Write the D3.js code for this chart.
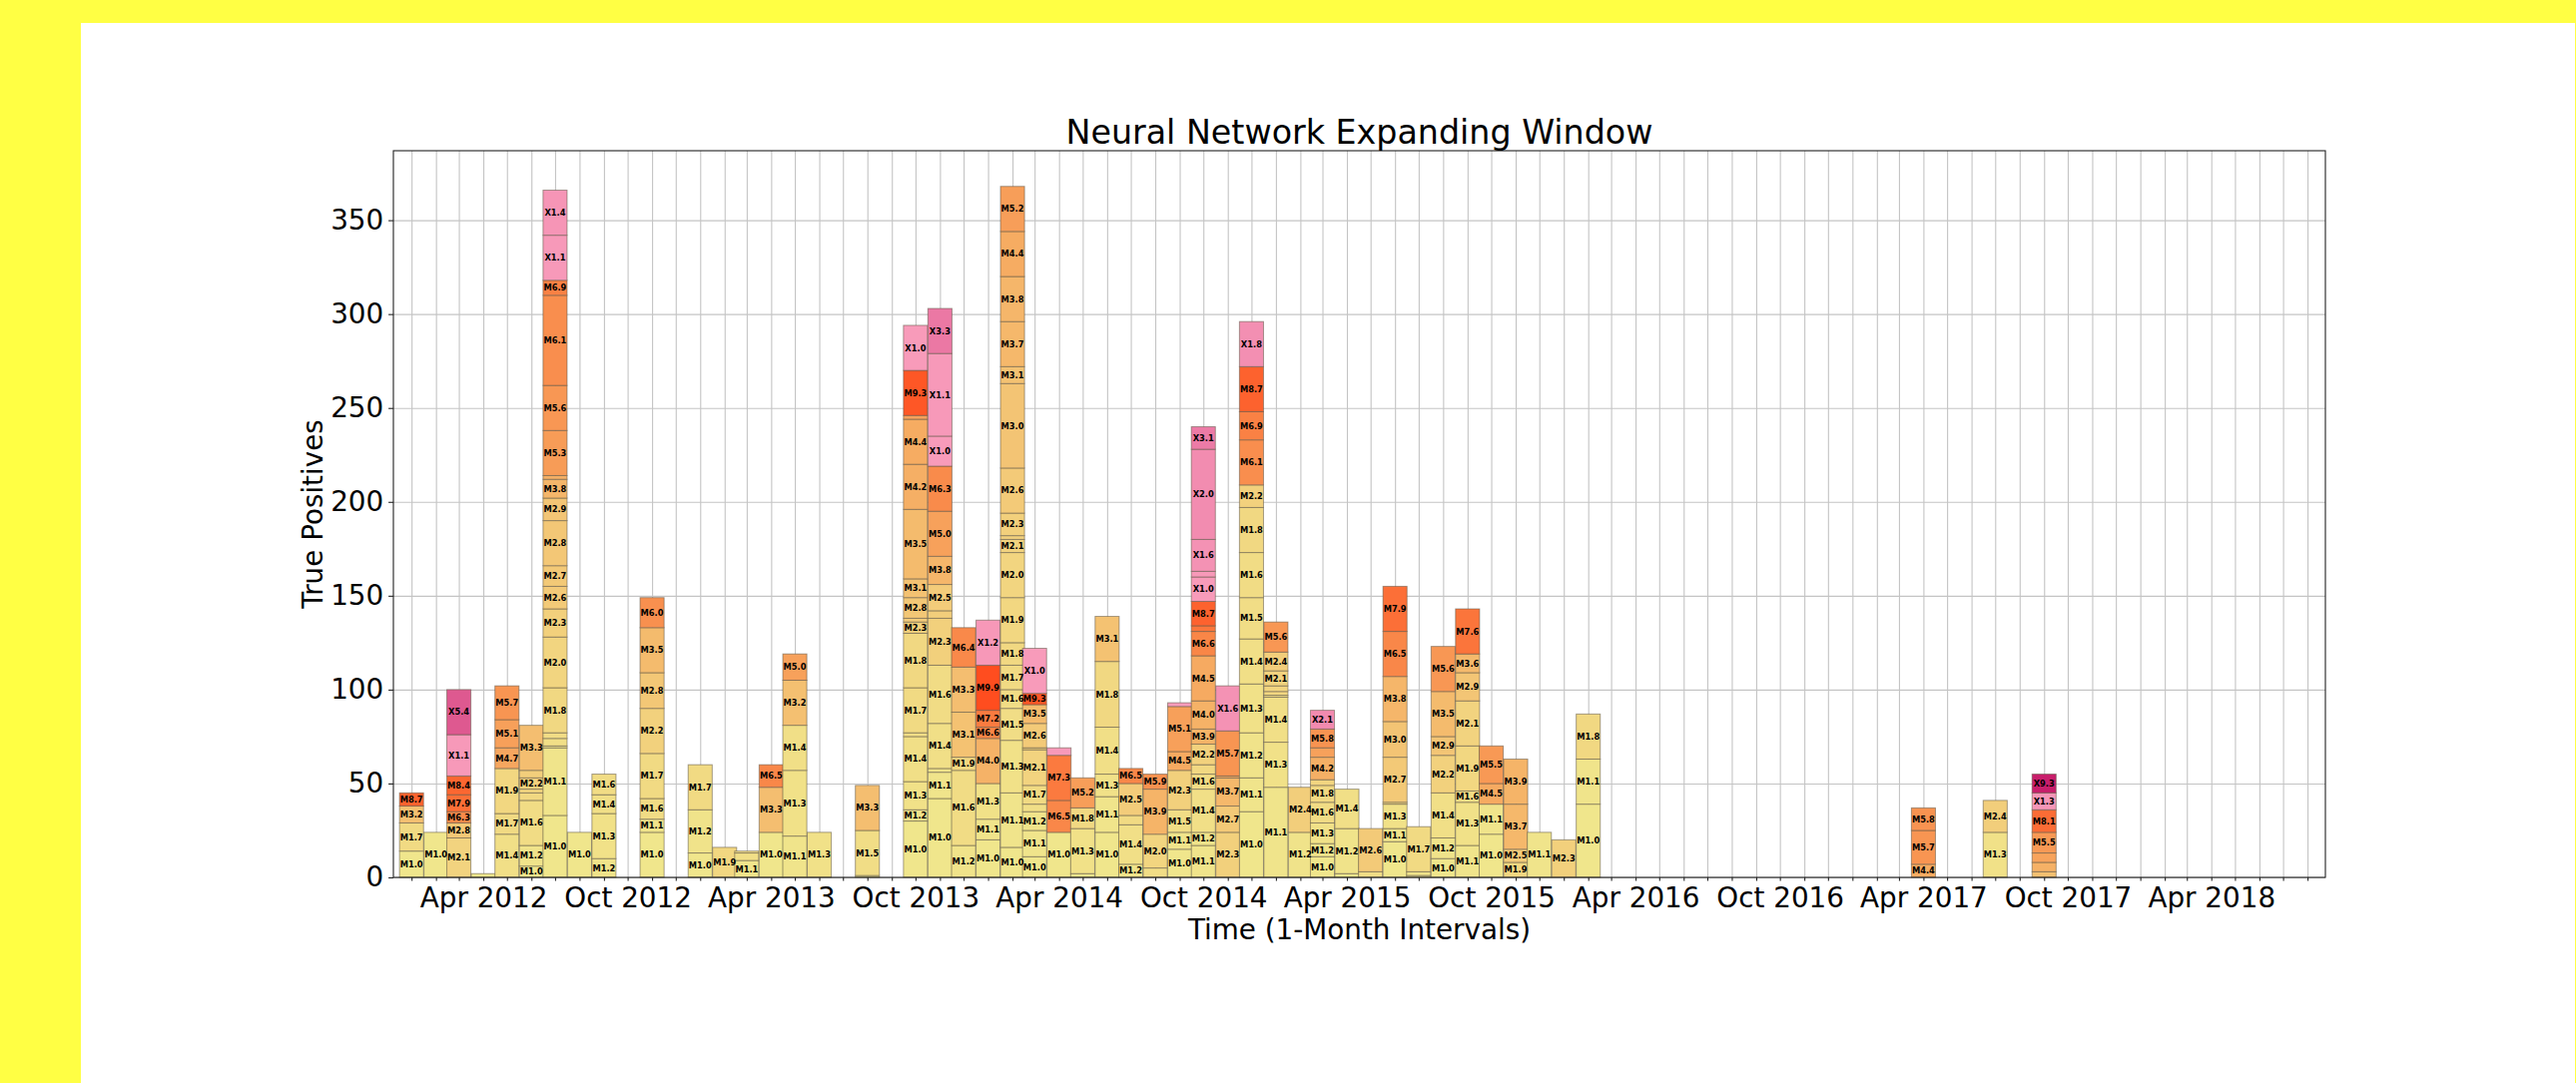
<!DOCTYPE html>
<html>
<head>
<meta charset="utf-8">
<script src="https://cdn.jsdelivr.net/npm/d3@7"></script>
<style>
html, body { margin: 0; padding: 0; background: #ffff44; overflow: hidden; }
svg { display: block; }
text { font-family: "DejaVu Sans", sans-serif; }
</style>
</head>
<body>
<div id="chart"></div>
<script>
// months that have at least one detected flare
var months = ["2012-01","2012-02","2012-03","2012-04","2012-05","2012-06","2012-07","2012-08","2012-09","2012-11",
  "2013-01","2013-02","2013-03","2013-04","2013-05","2013-06","2013-08","2013-10","2013-11","2013-12",
  "2014-01","2014-02","2014-03","2014-04","2014-05","2014-06","2014-07","2014-08","2014-09","2014-10","2014-11","2014-12",
  "2015-01","2015-02","2015-03","2015-04","2015-05","2015-06","2015-07","2015-08","2015-09","2015-10","2015-11","2015-12",
  "2016-01","2016-02","2017-04","2017-07","2017-09"];

// flare class of each stacked segment, bottom to top
var flareClasses = [
  ["M1.0","M1.7","M3.2","M8.7"],
  ["M1.0"],
  ["M2.1","M2.8","M6.3","M7.9","M8.4","X1.1","X5.4"],
  ["M1.0"],
  ["M1.4","M1.7","M1.9","M4.7","M5.1","M5.7"],
  ["M1.0","M1.2","M1.6","M1.8","M2.0","M2.2","M2.4","M3.3"],
  ["M1.0","M1.1","M1.2","M1.4","M1.6","M1.8","M2.0","M2.3","M2.6","M2.7","M2.8","M2.9","M3.8","M4.2","M5.3","M5.6","M6.1","M6.9","X1.1","X1.4"],
  ["M1.0"],
  ["M1.2","M1.3","M1.4","M1.6"],
  ["M1.0","M1.1","M1.6","M1.7","M2.2","M2.8","M3.5","M6.0"],
  ["M1.0","M1.2","M1.7"],
  ["M1.9"],
  ["M1.1","M1.4","M1.6"],
  ["M1.0","M3.3","M6.5"],
  ["M1.1","M1.3","M1.4","M3.2","M5.0"],
  ["M1.3"],
  ["M1.0","M1.5","M3.3"],
  ["M1.0","M1.2","M1.3","M1.4","M1.5","M1.7","M1.8","M2.3","M2.5","M2.8","M3.1","M3.5","M4.2","M4.4","M5.0","M9.3","X1.0"],
  ["M1.0","M1.1","M1.2","M1.4","M1.6","M2.3","M2.4","M2.5","M3.8","M5.0","M6.3","X1.0","X1.1","X3.3"],
  ["M1.2","M1.6","M1.9","M3.1","M3.3","M6.4"],
  ["M1.0","M1.1","M1.3","M4.0","M6.6","M7.2","M9.9","X1.2"],
  ["M1.0","M1.1","M1.3","M1.5","M1.6","M1.7","M1.8","M1.9","M2.0","M2.1","M2.2","M2.3","M2.6","M3.0","M3.1","M3.7","M3.8","M4.4","M5.2"],
  ["M1.0","M1.1","M1.2","M1.4","M1.7","M2.1","M2.2","M2.6","M3.5","M9.3","X1.0"],
  ["M1.0","M6.5","M7.3","X1.1"],
  ["M1.0","M1.3","M1.8","M5.2"],
  ["M1.0","M1.1","M1.3","M1.4","M1.8","M3.1"],
  ["M1.2","M1.4","M1.7","M2.5","M6.5"],
  ["M1.5","M2.0","M3.9","M5.9"],
  ["M1.0","M1.1","M1.5","M2.3","M4.5","M5.1","X1.0"],
  ["M1.1","M1.2","M1.4","M1.6","M1.8","M2.2","M3.9","M4.0","M4.5","M6.6","M7.5","M8.7","X1.0","X1.1","X1.6","X2.0","X3.1"],
  ["M2.3","M2.7","M3.7","M4.5","M5.7","X1.6"],
  ["M1.0","M1.1","M1.2","M1.3","M1.4","M1.5","M1.6","M1.8","M2.2","M6.1","M6.9","M8.7","X1.8"],
  ["M1.1","M1.3","M1.4","M1.6","M1.9","M2.0","M2.1","M2.4","M5.6"],
  ["M1.2","M2.4"],
  ["M1.0","M1.2","M1.3","M1.6","M1.8","M2.0","M4.2","M5.0","M5.8","X2.1"],
  ["M1.0","M1.2","M1.4"],
  ["M1.5","M2.6"],
  ["M1.0","M1.1","M1.3","M2.0","M2.7","M3.0","M3.8","M6.5","M7.9"],
  ["M1.0","M1.2","M1.7"],
  ["M1.0","M1.2","M1.4","M2.2","M2.9","M3.5","M5.6"],
  ["M1.1","M1.3","M1.6","M1.9","M2.1","M2.9","M3.6","M7.6"],
  ["M1.0","M1.1","M4.5","M5.5"],
  ["M1.9","M2.5","M3.7","M3.9"],
  ["M1.1"],
  ["M2.3"],
  ["M1.0","M1.1","M1.8"],
  ["M4.4","M5.7","M5.8"],
  ["M1.3","M2.4"],
  ["M3.2","M4.1","M4.9","M5.5","M8.1","X1.3","X9.3"]
];

// true positives for each segment, same order
var truePositives = [
  [14,15,9,7],
  [24],
  [21,8,6,9,10,22,24],
  [2],
  [23,11,24,11,15,18],
  [6,11,24,4,2,6,4,24],
  [33,36,1,4,3,24,27,15,12,11,24,12,10,2,24,24,48,8,24,24],
  [24],
  [10,24,10,11],
  [24,7,11,24,24,19,24,16],
  [13,23,24],
  [16],
  [9,4,1],
  [24,24,12],
  [22,35,24,24,14],
  [24],
  [1,24,24],
  [30,6,15,24,2,24,29,6,2,11,10,37,24,24,2,24,24],
  [42,14,2,24,31,25,4,14,15,24,24,16,44,24],
  [17,40,7,24,24,21],
  [20,11,19,24,6,9,24,24],
  [16,29,28,17,10,13,12,24,24,7,2,12,24,45,9,24,24,24,24],
  [11,14,10,4,10,19,1,13,10,6,24],
  [24,17,24,4],
  [2,24,11,16],
  [24,19,12,25,35,24],
  [7,21,5,17,8],
  [5,18,24,8],
  [15,9,12,21,10,24,2],
  [17,7,23,8,5,11,8,15,24,13,3,13,13,3,17,48,12],
  [24,14,15,1,24,24],
  [35,18,24,26,24,22,24,24,12,24,15,24,24],
  [48,24,24,1,2,3,8,10,16],
  [24,24],
  [11,7,11,11,9,3,12,5,10,10],
  [2,24,21],
  [3,23],
  [19,7,13,1,24,19,24,24,24],
  [1,2,24],
  [10,11,24,20,10,24,24],
  [17,23,6,24,24,15,10,24],
  [23,16,11,20],
  [8,7,24,24],
  [24],
  [20],
  [39,24,24],
  [7,18,12],
  [24,17],
  [3,5,5,11,12,9,10]
];

var yTicks = [0, 50, 100, 150, 200, 250, 300, 350];
var xTickLabels = ["Apr 2012","Oct 2012","Apr 2013","Oct 2013","Apr 2014","Oct 2014","Apr 2015",
  "Oct 2015","Apr 2016","Oct 2016","Apr 2017","Oct 2017","Apr 2018"];

(function() {

  var W = 2580, H = 1085;
  var pLeft = 394, pRight = 2329, pTop = 151, pBottom = 879;

  var svg = d3.select("#chart").append("svg")
    .attr("width", W)
    .attr("height", H);

  // white figure on the yellow page
  svg.append("rect")
    .attr("x", 81).attr("y", 23)
    .attr("width", 2498).attr("height", H - 23)
    .attr("fill", "white");

  var x = d3.scaleTime()
    .domain([new Date(2011, 11, 9), new Date(2018, 7, 23, 16)])
    .range([pLeft, pRight]);

  var y = d3.scaleLinear()
    .domain([0, 387])
    .range([pBottom, pTop]);

  var parseMonth = d3.timeParse("%Y-%m");
  var fmt = d3.timeFormat("%b %Y");
  var monthTicks = d3.timeMonth.range(x.domain()[0], x.domain()[1]);

  var flareColor = function(c) {
    var mag = +c.slice(1);
    var t = Math.max(0, Math.min(1, (mag - 1) / 8.9));
    if (c[0] == "X") {
      return d3.interpolateRgb("#f89bba", "#c41565")(t);
    }
    return d3.interpolateRgb("#f0e68c", "#ff4d1f")(t);
  };

  // grid
  svg.append("g")
    .attr("transform", "translate(0," + pBottom + ")")
    .call(d3.axisBottom(x).tickValues(monthTicks).tickSize(-(pBottom - pTop)).tickFormat(""))
    .call(function(g) { g.select(".domain").remove(); })
    .selectAll("line").attr("stroke", "#c4c4c4").attr("stroke-width", 1.1);

  svg.append("g")
    .attr("transform", "translate(" + pLeft + ",0)")
    .call(d3.axisLeft(y).tickValues(yTicks).tickSize(-(pRight - pLeft)).tickFormat(""))
    .call(function(g) { g.select(".domain").remove(); })
    .selectAll("line").attr("stroke", "#c4c4c4").attr("stroke-width", 1.1);

  // stacked segments
  var segments = [];
  months.forEach(function(m, i) {
    var d0 = parseMonth(m);
    var cum = 0;
    flareClasses[i].forEach(function(c, j) {
      var v = truePositives[i][j];
      segments.push({date: d0, cls: c, y0: cum, y1: cum + v, v: v});
      cum += v;
    });
  });

  var halfW = function(d) {
    return x(d3.timeHour.offset(d.date, 366)) - x(d.date);
  };

  var bars = svg.append("g");

  bars.selectAll("rect")
    .data(segments)
    .enter().append("rect")
    .attr("x", function(d) { return x(d.date) - halfW(d); })
    .attr("width", function(d) { return 2 * halfW(d); })
    .attr("y", function(d) { return y(d.y1); })
    .attr("height", function(d) { return y(d.y0) - y(d.y1); })
    .attr("fill", function(d) { return flareColor(d.cls); })
    .attr("stroke", "rgba(95,85,70,0.55)")
    .attr("stroke-width", 1);

  bars.selectAll("text")
    .data(segments.filter(function(d) { return d.v >= 6; }))
    .enter().append("text")
    .attr("x", function(d) { return x(d.date); })
    .attr("y", function(d) { return y((d.y0 + d.y1) / 2); })
    .attr("dy", "0.36em")
    .attr("text-anchor", "middle")
    .attr("font-size", "8.3px")
    .attr("font-weight", "bold")
    .attr("fill", "black")
    .text(function(d) { return d.cls; });

  // frame
  svg.append("rect")
    .attr("x", pLeft).attr("y", pTop)
    .attr("width", pRight - pLeft).attr("height", pBottom - pTop)
    .attr("fill", "none")
    .attr("stroke", "#222")
    .attr("stroke-width", 1.1);

  // axes
  var xAxis = svg.append("g")
    .attr("transform", "translate(0," + pBottom + ")")
    .call(d3.axisBottom(x)
      .tickValues(monthTicks)
      .tickSize(3.5)
      .tickSizeOuter(0)
      .tickPadding(7)
      .tickFormat(function(d) {
        var s = fmt(d);
        return xTickLabels.indexOf(s) >= 0 ? s : "";
      }));
  xAxis.select(".domain").remove();
  xAxis.selectAll("line").attr("stroke", "#222").attr("stroke-width", 1.1);
  xAxis.selectAll("text").attr("font-size", "27.8px").attr("fill", "black")
    .style("font-family", "'DejaVu Sans', sans-serif");

  var yAxis = svg.append("g")
    .attr("transform", "translate(" + pLeft + ",0)")
    .call(d3.axisLeft(y).tickValues(yTicks).tickSize(4.9).tickSizeOuter(0).tickPadding(4.9));
  yAxis.select(".domain").remove();
  yAxis.selectAll("line").attr("stroke", "#222").attr("stroke-width", 1.1);
  yAxis.selectAll("text").attr("font-size", "27.8px").attr("fill", "black")
    .style("font-family", "'DejaVu Sans', sans-serif");

  // labels
  svg.append("text")
    .attr("x", (pLeft + pRight) / 2)
    .attr("y", 144)
    .attr("text-anchor", "middle")
    .attr("font-size", "33.3px")
    .text("Neural Network Expanding Window");

  svg.append("text")
    .attr("x", (pLeft + pRight) / 2)
    .attr("y", 941)
    .attr("text-anchor", "middle")
    .attr("font-size", "27.8px")
    .text("Time (1-Month Intervals)");

  svg.append("text")
    .attr("transform", "translate(323," + (pTop + pBottom) / 2 + ") rotate(-90)")
    .attr("text-anchor", "middle")
    .attr("font-size", "27.8px")
    .text("True Positives");

})();
</script>
</body>
</html>
